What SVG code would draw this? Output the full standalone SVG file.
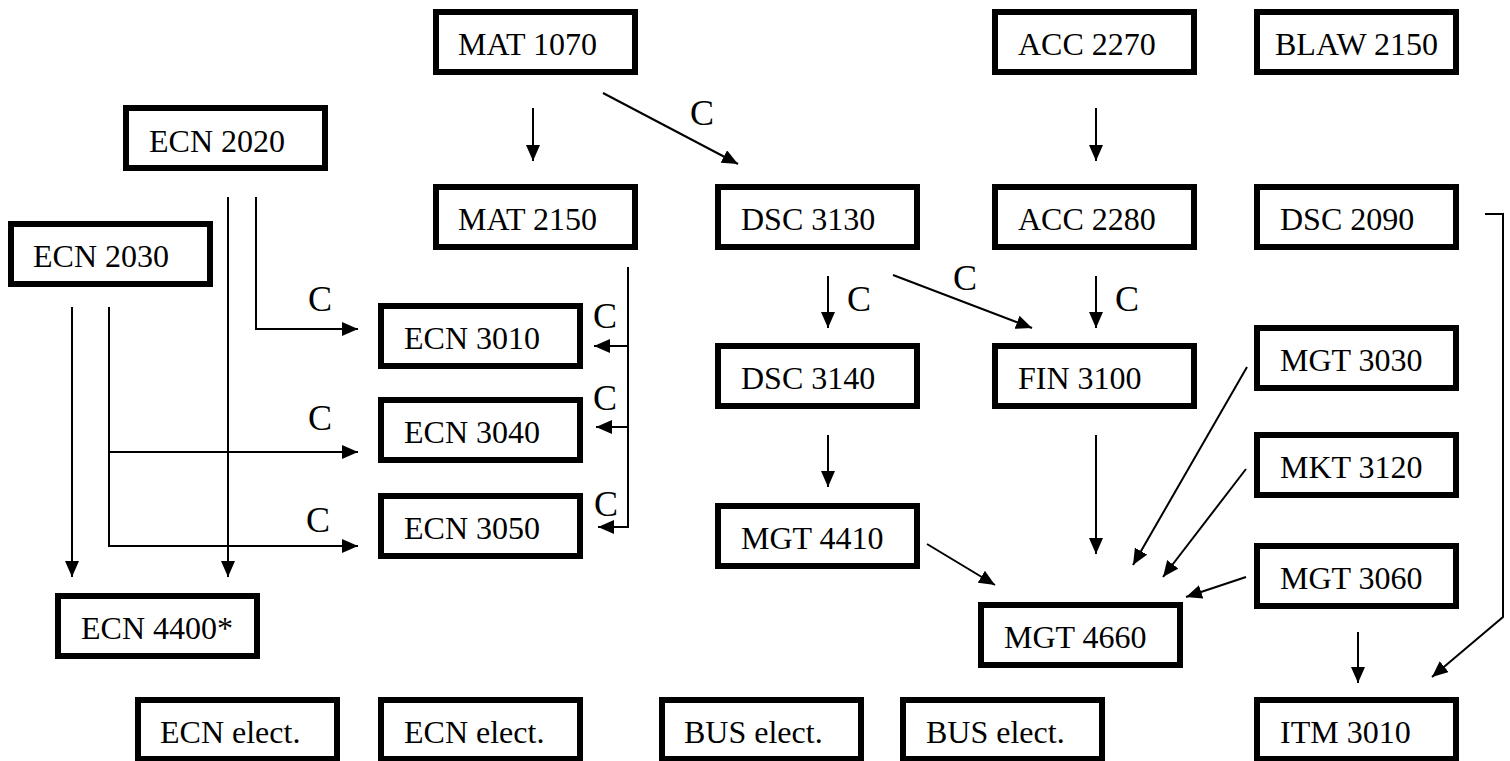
<svg xmlns="http://www.w3.org/2000/svg" width="1510" height="761" viewBox="0 0 1510 761">
<style>
.box{fill:#fff;stroke:#000;stroke-width:6}
.lbl{font-family:"Liberation Serif","Times New Roman",serif;font-size:32px;fill:#000}
.c{font-family:"Liberation Serif","Times New Roman",serif;font-size:36px;fill:#000}
.ln{fill:none;stroke:#000;stroke-width:2}
.ar{marker-end:url(#ah)}
</style>
<defs>
<marker id="ah" markerUnits="userSpaceOnUse" markerWidth="16" markerHeight="14" refX="16" refY="7" orient="auto">
<path d="M0,0 L16,7 L0,14 z" fill="#000"/>
</marker>
</defs>
<rect width="1510" height="761" fill="#fff"/>
<g id="n-mat1070"><rect class="box" x="436" y="12" width="199" height="60"/><text class="lbl" x="458" y="55">MAT 1070</text></g>
<g id="n-acc2270"><rect class="box" x="995" y="12" width="199" height="60"/><text class="lbl" x="1018" y="55">ACC 2270</text></g>
<g id="n-blaw2150"><rect class="box" x="1257" y="12" width="199" height="60"/><text class="lbl" x="1275" y="55">BLAW 2150</text></g>
<g id="n-ecn2020"><rect class="box" x="126" y="108" width="199" height="60"/><text class="lbl" x="149" y="152">ECN 2020</text></g>
<g id="n-mat2150"><rect class="box" x="436" y="187" width="199" height="60"/><text class="lbl" x="458" y="230">MAT 2150</text></g>
<g id="n-dsc3130"><rect class="box" x="718" y="187" width="199" height="60"/><text class="lbl" x="741" y="230">DSC 3130</text></g>
<g id="n-acc2280"><rect class="box" x="995" y="187" width="199" height="60"/><text class="lbl" x="1018" y="230">ACC 2280</text></g>
<g id="n-dsc2090"><rect class="box" x="1257" y="187" width="199" height="60"/><text class="lbl" x="1280" y="230">DSC 2090</text></g>
<g id="n-ecn2030"><rect class="box" x="11" y="224" width="199" height="60"/><text class="lbl" x="33" y="267">ECN 2030</text></g>
<g id="n-ecn3010"><rect class="box" x="381" y="306" width="199" height="60"/><text class="lbl" x="404" y="349">ECN 3010</text></g>
<g id="n-dsc3140"><rect class="box" x="718" y="346" width="199" height="60"/><text class="lbl" x="741" y="389">DSC 3140</text></g>
<g id="n-fin3100"><rect class="box" x="995" y="346" width="199" height="60"/><text class="lbl" x="1018" y="389">FIN 3100</text></g>
<g id="n-mgt3030"><rect class="box" x="1257" y="328" width="199" height="60"/><text class="lbl" x="1280" y="371">MGT 3030</text></g>
<g id="n-ecn3040"><rect class="box" x="381" y="400" width="199" height="60"/><text class="lbl" x="404" y="443">ECN 3040</text></g>
<g id="n-mkt3120"><rect class="box" x="1257" y="435" width="199" height="60"/><text class="lbl" x="1280" y="478">MKT 3120</text></g>
<g id="n-ecn3050"><rect class="box" x="381" y="496" width="199" height="60"/><text class="lbl" x="404" y="539">ECN 3050</text></g>
<g id="n-mgt4410"><rect class="box" x="718" y="506" width="199" height="60"/><text class="lbl" x="741" y="549">MGT 4410</text></g>
<g id="n-mgt3060"><rect class="box" x="1257" y="546" width="199" height="60"/><text class="lbl" x="1280" y="589">MGT 3060</text></g>
<g id="n-mgt4660"><rect class="box" x="981" y="605" width="199" height="60"/><text class="lbl" x="1004" y="648">MGT 4660</text></g>
<g id="n-ecn4400"><rect class="box" x="58" y="596" width="199" height="60"/><text class="lbl" x="81" y="639">ECN 4400*</text></g>
<g id="n-ecnel1"><rect class="box" x="138" y="700" width="199" height="59"/><text class="lbl" x="160" y="743">ECN elect.</text></g>
<g id="n-ecnel2"><rect class="box" x="381" y="700" width="199" height="59"/><text class="lbl" x="404" y="743">ECN elect.</text></g>
<g id="n-busel1"><rect class="box" x="662" y="700" width="199" height="59"/><text class="lbl" x="684" y="743">BUS elect.</text></g>
<g id="n-busel2"><rect class="box" x="903" y="700" width="199" height="59"/><text class="lbl" x="926" y="743">BUS elect.</text></g>
<g id="n-itm3010"><rect class="box" x="1257" y="700" width="199" height="59"/><text class="lbl" x="1280" y="743">ITM 3010</text></g>
<g id="connectors">
<line class="ln ar" x1="533" y1="108" x2="533" y2="161"/>
<line class="ln ar" x1="603" y1="93" x2="738" y2="164"/>
<text class="c" x="690" y="125">C</text>
<line class="ln ar" x1="1096" y1="108" x2="1096" y2="161"/>
<polyline class="ln ar" points="256,197 256,329 358,329"/>
<text class="c" x="308" y="311">C</text>
<line class="ln ar" x1="228" y1="197" x2="228" y2="577"/>
<line class="ln ar" x1="72" y1="307" x2="72" y2="577"/>
<polyline class="ln ar" points="109,307 109,546 358,546"/>
<line class="ln ar" x1="110" y1="452" x2="358" y2="452"/>
<text class="c" x="308" y="430">C</text>
<text class="c" x="306" y="532">C</text>
<line class="ln" x1="628" y1="267" x2="628" y2="528"/>
<line class="ln ar" x1="629" y1="346" x2="594" y2="346"/>
<line class="ln ar" x1="629" y1="427" x2="596" y2="427"/>
<line class="ln ar" x1="629" y1="527" x2="598" y2="527"/>
<text class="c" x="593" y="328">C</text>
<text class="c" x="593" y="410">C</text>
<text class="c" x="594" y="516">C</text>
<line class="ln ar" x1="828" y1="276" x2="828" y2="328"/>
<text class="c" x="847" y="311">C</text>
<line class="ln ar" x1="893" y1="275" x2="1032" y2="328"/>
<text class="c" x="953" y="290">C</text>
<line class="ln ar" x1="1096" y1="276" x2="1096" y2="328"/>
<text class="c" x="1115" y="311">C</text>
<line class="ln ar" x1="828" y1="435" x2="828" y2="487"/>
<line class="ln ar" x1="927" y1="544" x2="995" y2="585"/>
<line class="ln ar" x1="1096" y1="435" x2="1096" y2="554"/>
<line class="ln ar" x1="1247" y1="367" x2="1133" y2="565"/>
<line class="ln ar" x1="1246" y1="469" x2="1163" y2="577"/>
<line class="ln ar" x1="1246" y1="577" x2="1186" y2="597"/>
<line class="ln ar" x1="1358" y1="632" x2="1358" y2="683"/>
<polyline class="ln ar" points="1485,214 1503,214 1503,617 1432,677"/>
</g>
</svg>
